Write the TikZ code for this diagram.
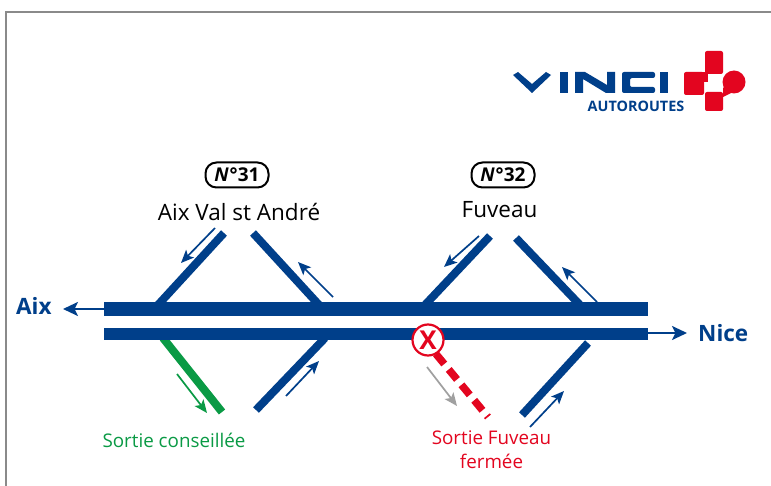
\documentclass[tikz,border=0pt]{standalone}
\usepackage{fontspec}
\setmainfont{Open Sans}
\usetikzlibrary{arrows.meta}
\definecolor{vblue}{HTML}{003F8A}
\definecolor{vred}{HTML}{E3051F}
\definecolor{vgreen}{HTML}{0A9A45}
\definecolor{vframe}{HTML}{8A8A8A}
\definecolor{vgrey}{HTML}{A0A0A0}
\tikzset{
  ramp/.style={line width=8pt,vblue},
  flow/.style={line width=1.7pt,vblue,-{Stealth[length=13pt,width=11pt,inset=3pt]}},
  lbl/.style={inner sep=0pt,font=\fontsize{22.5}{26}\selectfont},
  sortie/.style={inner sep=0pt,font=\fontsize{18.8}{24.5}\selectfont,align=center},
  city/.style={inner sep=0pt,text=vblue,font=\fontsize{22.5}{26}\selectfont\bfseries},
  badge/.style={draw=black,line width=2pt,rounded corners=11pt,minimum width=63pt,minimum height=25pt,inner sep=0pt,font=\fontsize{19}{20}\selectfont\bfseries},
}
\begin{document}
\begin{tikzpicture}[x=1pt,y=-1pt]
\useasboundingbox (0,0) rectangle (771,486);
\fill[white] (0,0) rectangle (771,486);
% frame
\draw[vframe,line width=1.8pt] (6,486) -- (6,12) -- (771,12);
% coordinates
\coordinate (r1a) at (104,309); \coordinate (r1b) at (648,309);
\coordinate (r2a) at (104,334); \coordinate (r2b) at (648,334);
% top ramps
\coordinate (a1) at (157,306); \coordinate (a2) at (224,233);
\coordinate (b1) at (320,306); \coordinate (b2) at (253,233);
\coordinate (c1) at (424,306); \coordinate (c2) at (490,236);
\coordinate (d1) at (581,306); \coordinate (d2) at (516,238);
\draw[ramp] (a1) -- (a2);
\draw[ramp] (b1) -- (b2);
\draw[ramp] (c1) -- (c2);
\draw[ramp] (d1) -- (d2);
% bottom ramps
\coordinate (e1) at (163,338); \coordinate (e2) at (222,412);
\coordinate (f1) at (325,338); \coordinate (f2) at (256,410);
\coordinate (g1) at (588,343); \coordinate (g2) at (522,415);
\draw[ramp,vgreen] (e1) -- (e2);
\draw[ramp] (f1) -- (f2);
\draw[ramp] (g1) -- (g2);
% roads
\draw[line width=13.5pt,vblue] (r1a) -- (r1b);
\draw[line width=12.5pt,vblue] (r2a) -- (r2b);
% closed ramp
\coordinate (h1) at (436,354); \coordinate (h2) at (488,417);
\draw[vred,line width=7.5pt,dash pattern=on 13pt off 7pt] (h1) -- (h2);
% flows
\coordinate (fa1) at (215,228); \coordinate (fa2) at (181,263);
\coordinate (fb1) at (333,297); \coordinate (fb2) at (298,262);
\coordinate (fc1) at (479,236); \coordinate (fc2) at (444,267);
\coordinate (fd1) at (597,302); \coordinate (fd2) at (562,267);
\coordinate (fe1) at (177,374); \coordinate (fe2) at (207,413);
\coordinate (ff1) at (286,396); \coordinate (ff2) at (319,361);
\coordinate (fg1) at (530,427); \coordinate (fg2) at (564,391);
\coordinate (fh1) at (427,367); \coordinate (fh2) at (457,406);
\draw[flow] (fa1) -- (fa2);
\draw[flow] (fb1) -- (fb2);
\draw[flow] (fc1) -- (fc2);
\draw[flow] (fd1) -- (fd2);
\draw[flow,vgreen] (fe1) -- (fe2);
\draw[flow] (ff1) -- (ff2);
\draw[flow] (fg1) -- (fg2);
\draw[flow,vgrey] (fh1) -- (fh2);
% closure marker
\node[circle,draw=vred,fill=white,line width=2.2pt,minimum size=31pt,inner sep=0pt,text=vred,font=\fontsize{26}{26}\selectfont\bfseries] (x) at (428,340) {X};
% main direction arrows
\node[city,anchor=west] (aix) at (16,306) {Aix};
\node[city,anchor=west] (nice) at (698,333) {Nice};
\coordinate (aixe) at (104,309); \coordinate (aixt) at (63,309);
\coordinate (nicee) at (648,333); \coordinate (nicet) at (687,333);
\draw[line width=2.4pt,vblue,-{Stealth[length=15pt,width=14pt,inset=3.5pt]}] (aixe) -- (aixt);
\draw[line width=2.4pt,vblue,-{Stealth[length=15pt,width=14pt,inset=3.5pt]}] (nicee) -- (nicet);
% exits
\node[badge] (n31) at (237,175) {\textit{N°}\kern1pt 31};
\node[badge] (n32) at (503,175) {\textit{N°}\kern1pt 32};
\node[lbl] (t31) at (239,212) {Aix Val st André};
\node[lbl] (t32) at (499.5,210) {Fuveau};
\node[sortie,text=vgreen] (s1) at (174,440) {Sortie conseillée};
\node[sortie,text=vred] (s2) at (491.5,449.5) {Sortie Fuveau\\fermée};
% logo
\fill[vblue] (513,75) -- (518,72) -- (532,84) -- (546,72) -- (551,75) -- (532,93) -- cycle;
\fill[vblue] (560,72) rectangle (568,93);
\fill[vblue] (575,72) -- (585,72) -- (607,85) -- (607,72) -- (615,72) -- (615,93) -- (606,93) -- (583,79) -- (583,93) -- (575,93) -- cycle;
\fill[vblue,rounded corners=2pt] (622,72) -- (655,72) -- (655,78) -- (630,78) -- (630,87) -- (655,87) -- (655,93) -- (622,93) -- cycle;
\fill[vblue] (660,72) rectangle (668,93);
\node[inner sep=0pt,text=vblue,font=\fontsize{14.4}{15}\selectfont\bfseries] (auto) at (636,106) {AUTOROUTES};
\fill[vred,rounded corners=2pt] (684,72) rectangle (704,95);
\fill[vred] (700,72) rectangle (708,82);
\fill[vred,rounded corners=2pt] (705,51) rectangle (723,74);
\fill[vred,rounded corners=2pt] (705,92) rectangle (723,111);
\fill[vred] (734,82) circle (11.5);
\fill[vred] (723,97) -- (723,88) -- (727,84) -- (733,92) -- cycle;
\end{tikzpicture}
\end{document}
